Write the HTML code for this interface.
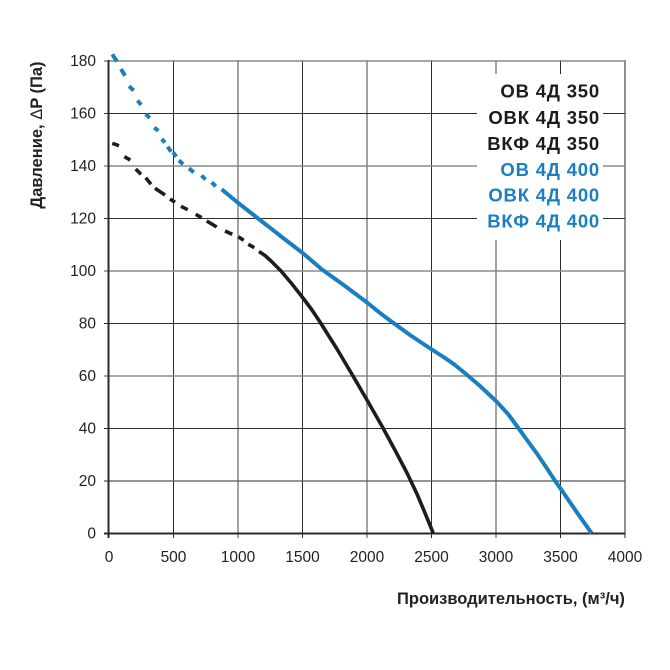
<!DOCTYPE html>
<html><head><meta charset="utf-8"><style>
html,body{margin:0;padding:0;background:#fff;}
svg{display:block;}
text{font-family:"Liberation Sans",Arial,sans-serif;}
</style></head><body>
<svg width="670" height="670" viewBox="0 0 670 670" xmlns="http://www.w3.org/2000/svg">
<rect width="670" height="670" fill="#fff"/>
<!-- grid verticals -->
<g fill="none">
<line x1="173.5" y1="60" x2="173.5" y2="538" stroke="#2e2e2e" stroke-width="1"/>
<line x1="238" y1="60" x2="238" y2="538" stroke="#8a8a8a" stroke-width="1.6"/>
<line x1="302.5" y1="60" x2="302.5" y2="538" stroke="#2e2e2e" stroke-width="1"/>
<line x1="367" y1="60" x2="367" y2="538" stroke="#8a8a8a" stroke-width="1.6"/>
<line x1="431.5" y1="60" x2="431.5" y2="538" stroke="#2e2e2e" stroke-width="1"/>
<line x1="496" y1="60" x2="496" y2="538" stroke="#8a8a8a" stroke-width="1.6"/>
<line x1="560.5" y1="60" x2="560.5" y2="538" stroke="#2e2e2e" stroke-width="1"/>
<line x1="625" y1="60" x2="625" y2="538" stroke="#555" stroke-width="1.3"/>
<!-- grid horizontals -->
<line x1="104" y1="61" x2="625" y2="61" stroke="#8a8a8a" stroke-width="1.6"/>
<line x1="104" y1="113.5" x2="625" y2="113.5" stroke="#2e2e2e" stroke-width="1"/>
<line x1="104" y1="166" x2="625" y2="166" stroke="#8a8a8a" stroke-width="1.6"/>
<line x1="104" y1="218.5" x2="625" y2="218.5" stroke="#2e2e2e" stroke-width="1"/>
<line x1="104" y1="271" x2="625" y2="271" stroke="#8a8a8a" stroke-width="1.6"/>
<line x1="104" y1="323.5" x2="625" y2="323.5" stroke="#2e2e2e" stroke-width="1"/>
<line x1="104" y1="376" x2="625" y2="376" stroke="#8a8a8a" stroke-width="1.6"/>
<line x1="104" y1="428.5" x2="625" y2="428.5" stroke="#2e2e2e" stroke-width="1"/>
<line x1="104" y1="481" x2="625" y2="481" stroke="#555" stroke-width="1.3"/>
<!-- axes -->
<line x1="108.5" y1="60" x2="108.5" y2="538" stroke="#2a2a2a" stroke-width="2"/>
<line x1="104" y1="533.5" x2="625" y2="533.5" stroke="#2a2a2a" stroke-width="2"/>
</g>
<!-- legend box -->
<rect x="477" y="74" width="126" height="166" fill="#fff"/>
<g font-size="18.5" font-weight="bold" text-anchor="end" letter-spacing="0.8">
<text x="600" y="97.5" fill="#1c1c1c">ОВ 4Д 350</text>
<text x="600" y="124" fill="#1c1c1c">ОВК 4Д 350</text>
<text x="600" y="150" fill="#1c1c1c">ВКФ 4Д 350</text>
<text x="600" y="176" fill="#1a7fc1">ОВ 4Д 400</text>
<text x="600" y="201.5" fill="#1a7fc1">ОВК 4Д 400</text>
<text x="600" y="227.5" fill="#1a7fc1">ВКФ 4Д 400</text>
</g>
<!-- y tick labels -->
<g font-size="15.5" fill="#222" text-anchor="end">
<text x="96" y="66">180</text>
<text x="96" y="118.5">160</text>
<text x="96" y="171">140</text>
<text x="96" y="223.5">120</text>
<text x="96" y="276">100</text>
<text x="96" y="328.5">80</text>
<text x="96" y="381">60</text>
<text x="96" y="433.5">40</text>
<text x="96" y="486">20</text>
<text x="96" y="538.5">0</text>
</g>
<!-- x tick labels -->
<g font-size="15.5" fill="#222" text-anchor="middle">
<text x="109" y="562">0</text>
<text x="173.5" y="562">500</text>
<text x="238" y="562">1000</text>
<text x="302.5" y="562">1500</text>
<text x="367" y="562">2000</text>
<text x="431.5" y="562">2500</text>
<text x="496" y="562">3000</text>
<text x="560.5" y="562">3500</text>
<text x="625" y="562">4000</text>
</g>
<!-- axis titles -->
<text x="397" y="604" font-size="16.5" font-weight="bold" fill="#222">Производительность, (м³/ч)</text>
<text transform="translate(42,135) rotate(-90)" font-size="16.5" font-weight="bold" fill="#222" text-anchor="middle">Давление, <tspan font-weight="normal">Δ</tspan>P (Па)</text>
<!-- blue curve -->
<g stroke="#1a7fc1" stroke-width="4" fill="none" stroke-linecap="butt">
<line x1="112.3" y1="54.3" x2="117" y2="61.5"/>
<line x1="121" y1="69" x2="125" y2="75.7"/>
<line x1="129" y1="86.2" x2="133.7" y2="90.5"/>
<line x1="137.5" y1="100.5" x2="141.2" y2="104.8"/>
<line x1="145.7" y1="114" x2="149.7" y2="118"/>
<line x1="154.3" y1="127.5" x2="158.3" y2="130.8"/>
<line x1="161.7" y1="139" x2="165" y2="142.5"/>
<line x1="167.7" y1="146.7" x2="171" y2="151.7"/>
<line x1="173" y1="152.3" x2="176.3" y2="156.7"/>
<line x1="179" y1="160.3" x2="183" y2="164.3"/>
<line x1="189" y1="168.3" x2="193.7" y2="172.3"/>
<line x1="201.5" y1="175.5" x2="205.5" y2="179.5"/>
<line x1="211.7" y1="182.3" x2="215.7" y2="186.3"/>
<polyline stroke-linejoin="round" points="221.7,189.3 237,202 260,220 270,227.7 285,239.5 302.7,253 322,269.5 345,286 367,302.5 380,313 390,320.5 410,335 431,349 445,358 455,365 466,374 480,386 496.7,401.7 508,414 518,427.5 527,440 536.7,453.3 546,467 555,480.7 565,495 578,514 591.7,533.3"/>
</g>
<!-- black curve -->
<g stroke="#1d1d1d" stroke-width="3.6" fill="none" stroke-linecap="butt">
<line x1="112.3" y1="143.3" x2="119" y2="145.7"/>
<line x1="124.3" y1="156.7" x2="130.3" y2="160"/>
<line x1="135.7" y1="169" x2="141" y2="174.3"/>
<line x1="145.7" y1="177.7" x2="151" y2="184.3"/>
<line x1="155" y1="188.3" x2="165" y2="195"/>
<line x1="170" y1="199" x2="175" y2="202.3"/>
<line x1="181" y1="206.3" x2="187.7" y2="209.7"/>
<line x1="195.7" y1="214.3" x2="201.7" y2="217.7"/>
<line x1="206.7" y1="221" x2="216.7" y2="227"/>
<line x1="225" y1="231" x2="232.3" y2="234.3"/>
<line x1="238.3" y1="236.7" x2="243.7" y2="240.3"/>
<line x1="248.3" y1="244.3" x2="254.3" y2="247.7"/>
<polyline stroke-linejoin="round" points="259,251.5 265,255.5 271,261 281,271 292,284 303,298 312,310 320,322 337,349 353,376 367,400 383,428 396,452 407,473 417,494 425,513 433.3,533.3"/>
</g>
</svg>
</body></html>
